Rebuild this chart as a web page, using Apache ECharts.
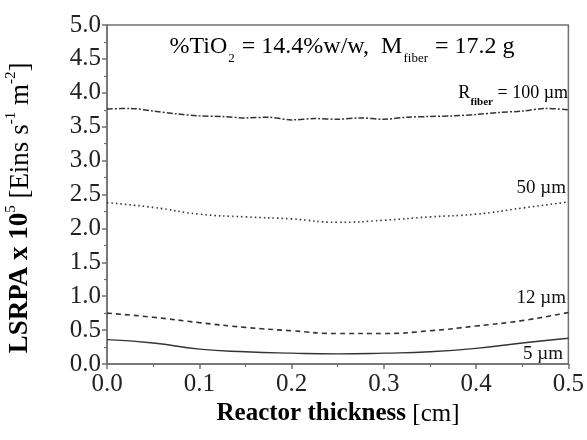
<!DOCTYPE html>
<html><head><meta charset="utf-8">
<script src="https://cdn.jsdelivr.net/npm/echarts@6/dist/echarts.min.js"></script>
<style>html,body{margin:0;padding:0;background:#fff}#c{width:587px;height:440px}</style>
</head><body><div id="c"></div>
<script>
var xFine = [0,0.025,0.05,0.075,0.1,0.125,0.15,0.175,0.2,0.225,0.25,0.275,0.3,0.325,0.35,0.375,0.4,0.425,0.45,0.475,0.5];
var xCoarse = [0,0.05,0.1,0.15,0.2,0.25,0.3,0.35,0.4,0.45,0.5];
var r100 = [3.76,3.77,3.73,3.69,3.66,3.65,3.63,3.64,3.60,3.62,3.61,3.63,3.61,3.64,3.65,3.66,3.68,3.71,3.73,3.77,3.75];
var r50  = [2.38,2.31,2.21,2.17,2.14,2.09,2.12,2.17,2.21,2.30,2.39];
var r12  = [0.75,0.69,0.61,0.54,0.49,0.45,0.45,0.49,0.56,0.64,0.76];
var r5   = [0.36,0.31,0.22,0.18,0.16,0.15,0.16,0.18,0.23,0.31,0.38];
var xTicks = ['0.0','0.1','0.2','0.3','0.4','0.5'];
var yTicks = ['0.0','0.5','1.0','1.5','2.0','2.5','3.0','3.5','4.0','4.5','5.0'];

function pairs(xs, ys){ return xs.map(function(x,i){ return [x, ys[i]]; }); }

var FONT = '"Liberation Serif","DejaVu Serif",serif';
var chart = echarts.init(document.getElementById('c'));
var lineColor = '#333';
chart.setOption({
  animation: false,
  backgroundColor: '#fff',
  grid: {left: 107, right: 17, top: 25, bottom: 76, show: true, borderColor: '#707070', borderWidth: 1.5, backgroundColor: 'transparent'},
  xAxis: {
    type: 'value', min: 0, max: 0.5, interval: 0.1,
    axisLine: {show: true, lineStyle: {color: '#707070', width: 1.5}},
    axisTick: {show: true, inside: false, length: 5, lineStyle: {color: '#707070', width: 1.5}},
    minorTick: {show: true, splitNumber: 2, length: 3, lineStyle: {color: '#707070', width: 1.2}},
    splitLine: {show: false},
    axisLabel: {fontFamily: FONT, fontSize: 25, color: '#222', margin: 8,
      formatter: function(v){ return xTicks[Math.round(v*10)]; }}
  },
  yAxis: {
    type: 'value', min: 0, max: 5, interval: 0.5,
    axisLine: {show: true, lineStyle: {color: '#707070', width: 1.5}},
    axisTick: {show: true, inside: false, length: 5, lineStyle: {color: '#707070', width: 1.5}},
    minorTick: {show: true, splitNumber: 2, length: 3, lineStyle: {color: '#707070', width: 1.2}},
    splitLine: {show: false},
    axisLabel: {fontFamily: FONT, fontSize: 25, color: '#222', margin: 6,
      formatter: function(v){ return yTicks[Math.round(v*2)]; }}
  },
  series: [
    {type: 'line', data: pairs(xFine, r100), smooth: 0.3, showSymbol: false,
      lineStyle: {color: lineColor, width: 1.5, type: [6,2,2,2]}},
    {type: 'line', data: pairs(xCoarse, r50), smooth: true, showSymbol: false,
      lineStyle: {color: lineColor, width: 1.6, type: [1.5,3]}},
    {type: 'line', data: pairs(xCoarse, r12), smooth: true, showSymbol: false,
      lineStyle: {color: lineColor, width: 1.6, type: [5,4]}},
    {type: 'line', data: pairs(xCoarse, r5), smooth: true, showSymbol: false,
      lineStyle: {color: lineColor, width: 1.4, type: 'solid'}}
  ],
  graphic: [
    {type: 'text', x: 342, y: 49, style: {
      text: '{n|%TiO}{sub|2}{n| = 14.4%w/w,  M}{sub|fiber}{n| = 17.2 g}', align: 'center', verticalAlign: 'middle',
      rich: {
        n: {fontFamily: FONT, fontSize: 24, color: '#111', lineHeight: 32, verticalAlign: 'top', padding: [2,0,0,0]},
        sub: {fontFamily: FONT, fontSize: 13, color: '#111', lineHeight: 32, verticalAlign: 'bottom', padding: [0,1,0,1]}
      }}},
    {type: 'text', x: 568, y: 95, style: {
      text: '{n|R}{sub|fiber}{n| = 100 µm}', align: 'right', verticalAlign: 'middle',
      rich: {
        n: {fontFamily: FONT, fontSize: 18, color: '#111', lineHeight: 26, verticalAlign: 'top', padding: [2,0,0,0]},
        sub: {fontFamily: FONT, fontSize: 11, fontWeight: 'bold', color: '#111', lineHeight: 26, verticalAlign: 'bottom'}
      }}},
    {type: 'text', x: 566, y: 188, style: {text: '50 µm', fontFamily: FONT, fontSize: 19, fill: '#111', align: 'right', verticalAlign: 'middle'}},
    {type: 'text', x: 566, y: 298, style: {text: '12 µm', fontFamily: FONT, fontSize: 19, fill: '#111', align: 'right', verticalAlign: 'middle'}},
    {type: 'text', x: 563, y: 354, style: {text: '5 µm', fontFamily: FONT, fontSize: 19, fill: '#111', align: 'right', verticalAlign: 'middle'}},
    {type: 'text', x: 338, y: 414, style: {
      text: '{b|Reactor thickness }{n|[cm]}', align: 'center', verticalAlign: 'middle',
      rich: {
        b: {fontFamily: FONT, fontSize: 25, fontWeight: 'bold', color: '#111'},
        n: {fontFamily: FONT, fontSize: 25, color: '#111'}
      }}},
    {type: 'text', x: 19, y: 208, rotation: Math.PI/2, style: {
      text: '{b|LSRPA x 10}{sup|5}{n| [Eins s}{sup|-1}{n| m}{sup|-2}{n|]}', align: 'center', verticalAlign: 'middle',
      rich: {
        b: {fontFamily: FONT, fontSize: 27, fontWeight: 'bold', color: '#111', lineHeight: 30, verticalAlign: 'bottom'},
        n: {fontFamily: FONT, fontSize: 27, color: '#111', lineHeight: 30, verticalAlign: 'bottom'},
        sup: {fontFamily: FONT, fontSize: 15, color: '#111', lineHeight: 30, verticalAlign: 'top'}
      }}}
  ]
});
</script>
</body></html>
